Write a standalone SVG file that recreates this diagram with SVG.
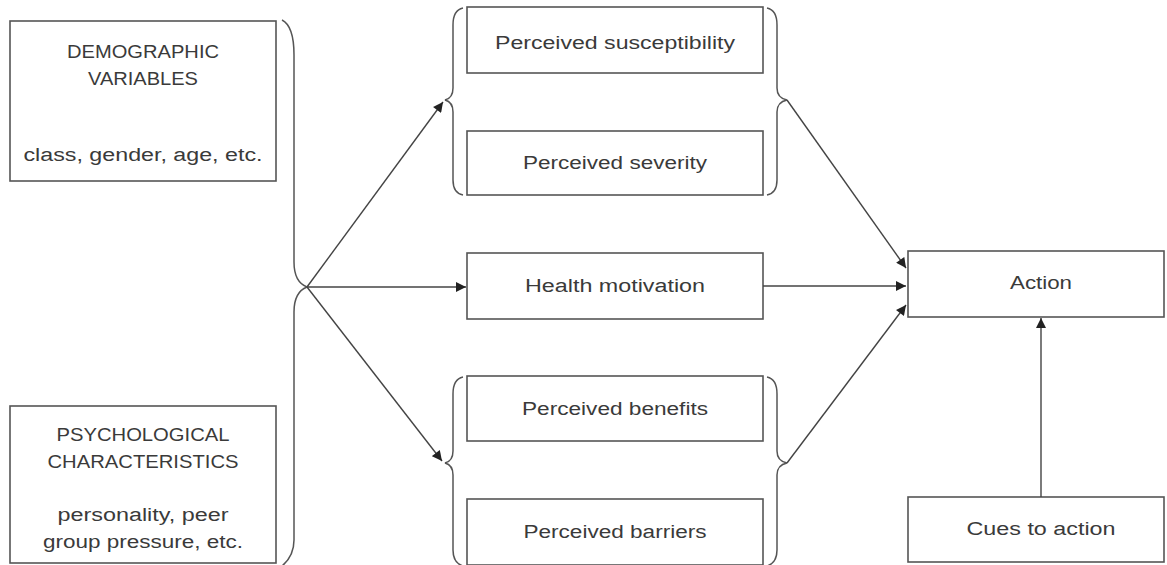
<svg xmlns="http://www.w3.org/2000/svg" width="1167" height="565" viewBox="0 0 1167 565">
<style>
.box{fill:#fff;stroke:#555;stroke-width:1.6}
.br{fill:none;stroke:#555;stroke-width:1.5}
.ln{fill:none;stroke:#444;stroke-width:1.4}
text{font-family:"Liberation Sans",Arial,sans-serif;font-size:18px;fill:#3a3a3a;text-anchor:middle}
</style>
<defs>
<marker id="ah" viewBox="0 0 10 10" refX="10" refY="5" markerWidth="11" markerHeight="10" markerUnits="userSpaceOnUse" orient="auto">
<path d="M0,0 L10,5 L0,10 Z" fill="#222"/>
</marker>
</defs>
<rect width="1167" height="565" fill="#fff"/>
<g id="demographic">
<rect class="box" x="10" y="21" width="266" height="160"/>
<text x="143" y="58" textLength="152" lengthAdjust="spacingAndGlyphs">DEMOGRAPHIC</text>
<text x="143" y="85" textLength="110" lengthAdjust="spacingAndGlyphs">VARIABLES</text>
<text x="143" y="161" textLength="239" lengthAdjust="spacingAndGlyphs">class, gender, age, etc.</text>
</g>
<g id="psychological">
<rect class="box" x="10" y="406" width="266" height="157"/>
<text x="143" y="441" textLength="173" lengthAdjust="spacingAndGlyphs">PSYCHOLOGICAL</text>
<text x="143" y="468" textLength="191" lengthAdjust="spacingAndGlyphs">CHARACTERISTICS</text>
<text x="143" y="521" textLength="171" lengthAdjust="spacingAndGlyphs">personality, peer</text>
<text x="143" y="548" textLength="200" lengthAdjust="spacingAndGlyphs">group pressure, etc.</text>
</g>
<g id="left-brace">
<path class="br" d="M282,20 Q294,26 294,55 L294,262 Q294,282 307,287 Q294,292 294,312 L294,540 Q294,556 282,566"/>
</g>
<g id="susceptibility">
<rect class="box" x="467" y="7" width="296" height="66"/>
<text x="615" y="49" textLength="240" lengthAdjust="spacingAndGlyphs">Perceived susceptibility</text>
</g>
<g id="severity">
<rect class="box" x="467" y="131" width="296" height="64"/>
<text x="615" y="169" textLength="184" lengthAdjust="spacingAndGlyphs">Perceived severity</text>
</g>
<g id="top-braces">
<path class="br" d="M463,8 Q453,10 453,25 L453,88 Q453,98 445,100 Q453,102 453,112 L453,180 Q453,193 463,195"/>
<path class="br" d="M767,8 Q777,10 777,25 L777,88 Q777,98 787,100 Q777,102 777,112 L777,180 Q777,193 767,195"/>
</g>
<g id="health-motivation">
<rect class="box" x="467" y="253" width="296" height="66"/>
<text x="615" y="292" textLength="180" lengthAdjust="spacingAndGlyphs">Health motivation</text>
</g>
<g id="benefits">
<rect class="box" x="467" y="376" width="296" height="65"/>
<text x="615" y="415" textLength="186" lengthAdjust="spacingAndGlyphs">Perceived benefits</text>
</g>
<g id="barriers">
<rect class="box" x="467" y="499" width="296" height="66"/>
<text x="615" y="538" textLength="183" lengthAdjust="spacingAndGlyphs">Perceived barriers</text>
</g>
<g id="bottom-braces">
<path class="br" d="M463,377 Q453,379 453,394 L453,451 Q453,461 445,463 Q453,465 453,475 L453,550 Q453,563 463,566"/>
<path class="br" d="M767,377 Q777,379 777,394 L777,451 Q777,461 787,463 Q777,465 777,475 L777,550 Q777,563 767,566"/>
</g>
<g id="action">
<rect class="box" x="908" y="251" width="256" height="66"/>
<text x="1041" y="289" textLength="62" lengthAdjust="spacingAndGlyphs">Action</text>
</g>
<g id="cues">
<rect class="box" x="908" y="497" width="256" height="65"/>
<text x="1041" y="535" textLength="149" lengthAdjust="spacingAndGlyphs">Cues to action</text>
</g>
<g id="connectors">
<line class="ln" x1="307" y1="287" x2="443" y2="102" marker-end="url(#ah)"/>
<line class="ln" x1="307" y1="287" x2="466" y2="287" marker-end="url(#ah)"/>
<line class="ln" x1="307" y1="287" x2="442" y2="461" marker-end="url(#ah)"/>
<line class="ln" x1="787" y1="100" x2="906" y2="268" marker-end="url(#ah)"/>
<line class="ln" x1="763" y1="286" x2="906" y2="286" marker-end="url(#ah)"/>
<line class="ln" x1="787" y1="463" x2="906" y2="305" marker-end="url(#ah)"/>
<line class="ln" x1="1041" y1="497" x2="1041" y2="318" marker-end="url(#ah)"/>
</g>
</svg>
